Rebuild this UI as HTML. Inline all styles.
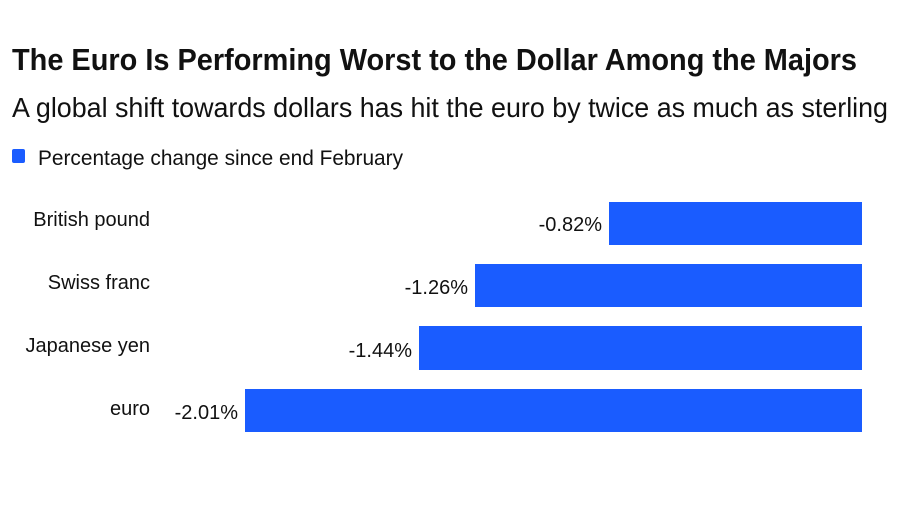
<!DOCTYPE html>
<html><head><meta charset="utf-8"><style>
html,body{margin:0;padding:0;background:#fff;}
svg{display:block;}
text{font-family:"Liberation Sans",sans-serif;fill:#111;}
</style></head><body>
<svg width="900" height="510" viewBox="0 0 900 510">
<rect width="900" height="510" fill="#fff"/>
<text x="12" y="70" font-size="31" font-weight="bold" textLength="845" lengthAdjust="spacingAndGlyphs">The Euro Is Performing Worst to the Dollar Among the Majors</text>
<text x="12" y="117" font-size="28" textLength="876" lengthAdjust="spacingAndGlyphs">A global shift towards dollars has hit the euro by twice as much as sterling</text>
<rect x="12" y="149" width="13" height="14" rx="2" fill="#1a5cff"/>
<text x="38" y="165" font-size="21" textLength="365" lengthAdjust="spacingAndGlyphs">Percentage change since end February</text>
<g font-size="20" text-anchor="end">
<text x="150" y="226">British pound</text>
<text x="150" y="289">Swiss franc</text>
<text x="150" y="352">Japanese yen</text>
<text x="150" y="415">euro</text>
<text x="602" y="231">-0.82%</text>
<text x="468" y="294">-1.26%</text>
<text x="412" y="357">-1.44%</text>
<text x="238" y="419">-2.01%</text>
</g>
<g fill="#1a5cff">
<rect x="609" y="202" width="253" height="43"/>
<rect x="475" y="264" width="387" height="43"/>
<rect x="419" y="326" width="443" height="44"/>
<rect x="245" y="389" width="617" height="43"/>
</g>
</svg>
</body></html>
